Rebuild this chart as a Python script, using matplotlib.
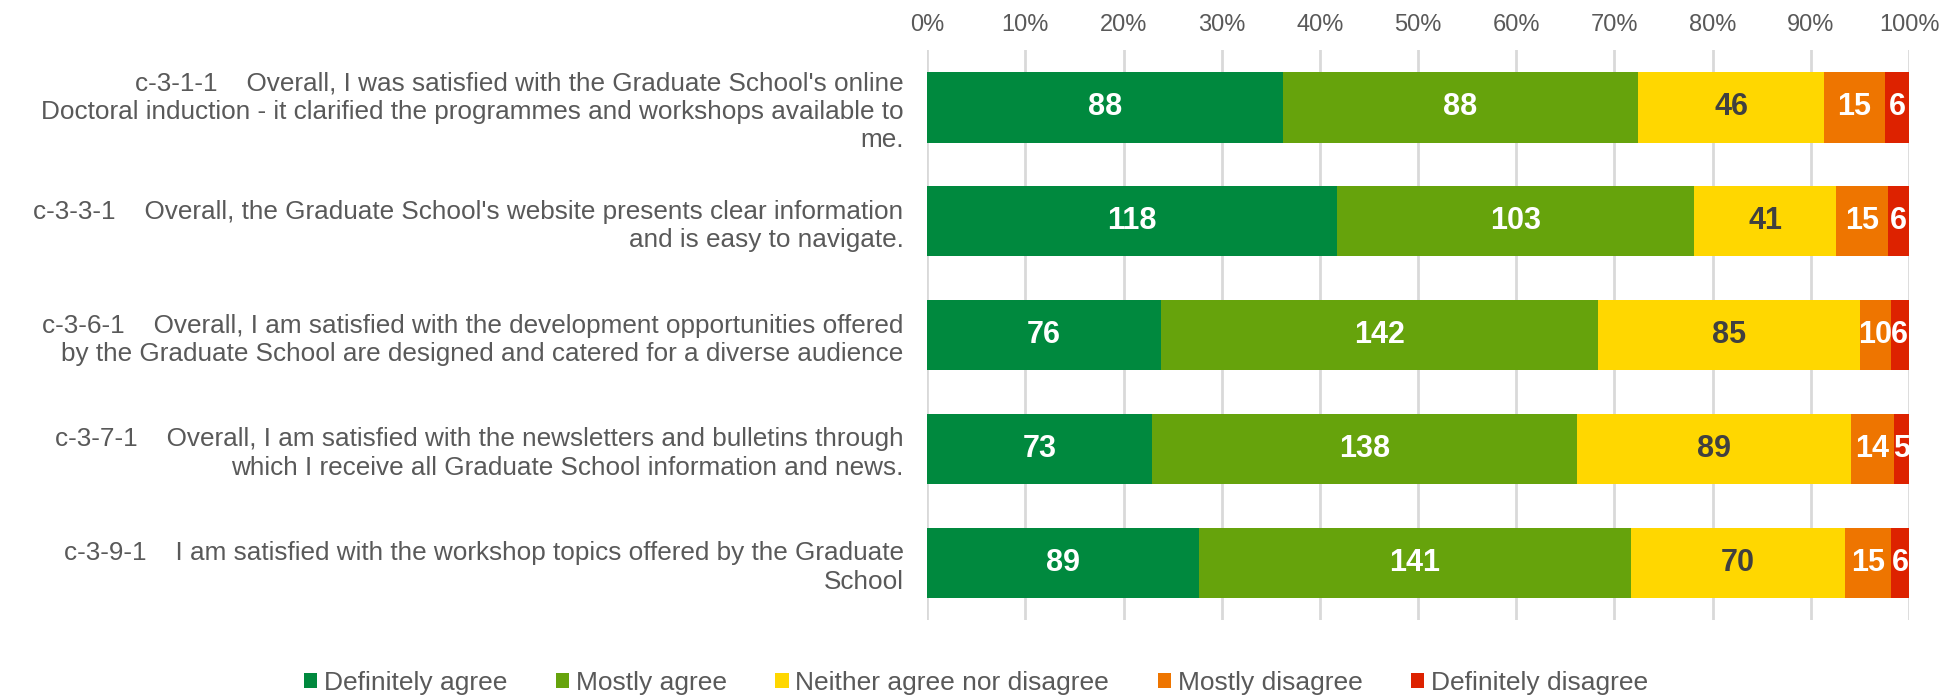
import numpy as np
import matplotlib.pyplot as plt
from matplotlib.ticker import PercentFormatter

plt.rcParams['font.family'] = ['Liberation Sans', 'DejaVu Sans']

questions = [
    "c-3-1-1    Overall, I was satisfied with the Graduate School's online\nDoctoral induction - it clarified the programmes and workshops available to\nme.",
    "c-3-3-1    Overall, the Graduate School's website presents clear information\nand is easy to navigate.",
    "c-3-6-1    Overall, I am satisfied with the development opportunities offered\nby the Graduate School are designed and catered for a diverse audience",
    "c-3-7-1    Overall, I am satisfied with the newsletters and bulletins through\nwhich I receive all Graduate School information and news.",
    "c-3-9-1    I am satisfied with the workshop topics offered by the Graduate\nSchool",
]
categories = ["Definitely agree", "Mostly agree", "Neither agree nor disagree",
              "Mostly disagree", "Definitely disagree"]
definitely_agree = [88, 118, 76, 73, 89]
mostly_agree = [88, 103, 142, 138, 141]
neither = [46, 41, 85, 89, 70]
mostly_disagree = [15, 15, 10, 14, 15]
definitely_disagree = [6, 6, 6, 5, 6]

colors = ["#00893E", "#66A30C", "#FFD700", "#EE7500", "#DD2200"]
text_colors = ["white", "white", "#404040", "white", "white"]

counts = np.array([definitely_agree, mostly_agree, neither,
                   mostly_disagree, definitely_disagree], dtype=float)
totals = counts.sum(axis=0)
shares = counts / totals * 100

fig = plt.figure(figsize=(19.52, 6.98), dpi=100)
ax = fig.add_axes([0.475, 0.112, 0.503, 0.816])

y = np.arange(len(questions))
left = np.zeros(len(questions))
for i, cat in enumerate(categories):
    bars = ax.barh(y, shares[i], left=left, height=0.62, color=colors[i],
                   label=cat, zorder=3)
    for j, b in enumerate(bars):
        ax.text(left[j] + shares[i][j] / 2, y[j], f"{int(counts[i][j])}",
                ha="center", va="center", color=text_colors[i],
                fontsize=22, fontweight="bold", zorder=4)
    left += shares[i]

ax.set_xlim(0, 100)
ax.set_ylim(len(questions) - 0.5, -0.5)
ax.set_xticks(np.arange(0, 101, 10))
ax.xaxis.set_major_formatter(PercentFormatter(decimals=0))
ax.xaxis.tick_top()
ax.tick_params(axis="x", length=0, labelsize=17, labelcolor="#595959", pad=10)
ax.set_yticks(y)
ax.set_yticklabels(questions, fontsize=18.8, color="#595959", ha="right",
                   linespacing=1.22)
ax.tick_params(axis="y", length=0, pad=17)
ax.grid(axis="x", color="#D9D9D9", linewidth=2, zorder=0)
for s in ax.spines.values():
    s.set_visible(False)

fig.legend(loc="lower center", ncol=5, bbox_to_anchor=(0.5, -0.03),
           frameon=False, fontsize=19, handlelength=0.5, handleheight=0.5,
           handletextpad=0.25, columnspacing=1.85, labelcolor="#595959")

fig.savefig("out.png", dpi=100)
